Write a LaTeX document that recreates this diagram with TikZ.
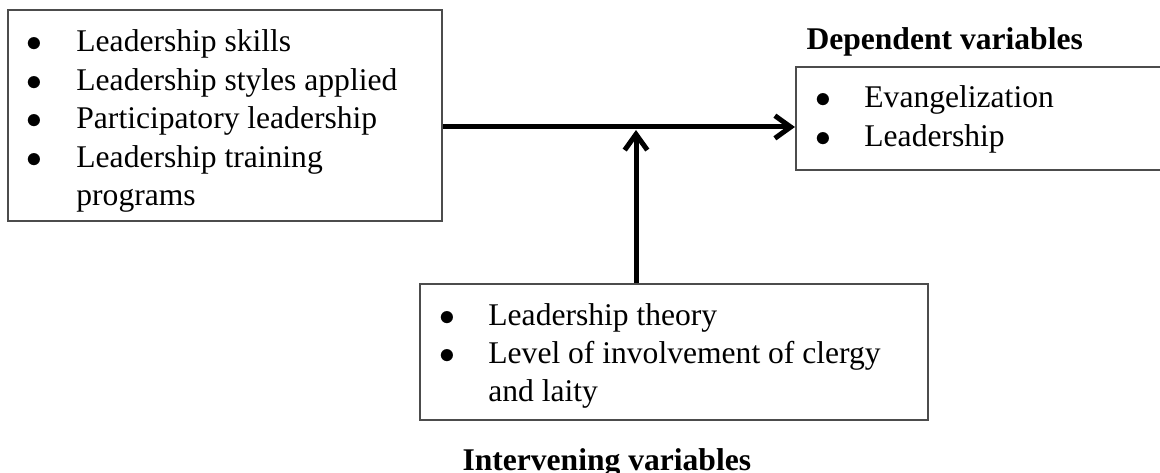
\documentclass[tikz,border=0pt]{standalone}
\usepackage{fontspec}
\setmainfont{Liberation Serif}
\usetikzlibrary{arrows.meta,fit}

\tikzset{
  box/.style={draw=black!70, line width=0.8pt, inner sep=0pt},
  list/.style={inner sep=0pt, anchor=base west, font=\fontsize{12}{14.6}\selectfont},
  head/.style={inner sep=0pt, anchor=base west, font=\fontsize{12}{14.6}\selectfont\bfseries},
  link/.style={line width=1.9pt, -{Straight Barb[length=6pt,width=8.6pt,line width=1.9pt]}}
}
\newcommand{\bul}{$\bullet$}

\begin{document}
\begin{tikzpicture}[x=0.38pt, y=-0.38pt]
\useasboundingbox (0,0) rectangle (1160,473);
\node[box, fit={(8,10) (442,221)}] (indep) {};
\node[box, fit={(796,67) (1175,170)}] (dep) {};
\node[box, fit={(420,284) (928,420)}] (interv) {};
\node[list] (indeplist) at (8,52) {\begin{tabular}[t]{@{\hspace{6.9pt}}p{18.9pt}@{}l@{}}
\bul & Leadership skills\\
\bul & Leadership styles applied\\
\bul & Participatory leadership\\
\bul & Leadership training\\
     & programs
\end{tabular}};
\node[list] (deplist) at (796,108) {\begin{tabular}[t]{@{\hspace{7.3pt}}p{18.5pt}@{}l@{}}
\bul & Evangelization\\
\bul & Leadership
\end{tabular}};
\node[list] (intervlist) at (420,325) {\begin{tabular}[t]{@{\hspace{7.3pt}}p{18.5pt}@{}l@{}}
\bul & Leadership theory\\
\bul & Level of involvement of clergy\\
     & and laity
\end{tabular}};
\node[head] (deplabel) at (806,50) {Dependent variables};
\node[head] (intervlabel) at (462,470) {Intervening variables};
\coordinate (meet) at (636,127);
\coordinate (tip) at (636,130);
\draw[link] (indep.east |- meet) -- (dep.west |- meet);
\draw[link] (interv.north -| tip) -- (tip);
\end{tikzpicture}
\end{document}
